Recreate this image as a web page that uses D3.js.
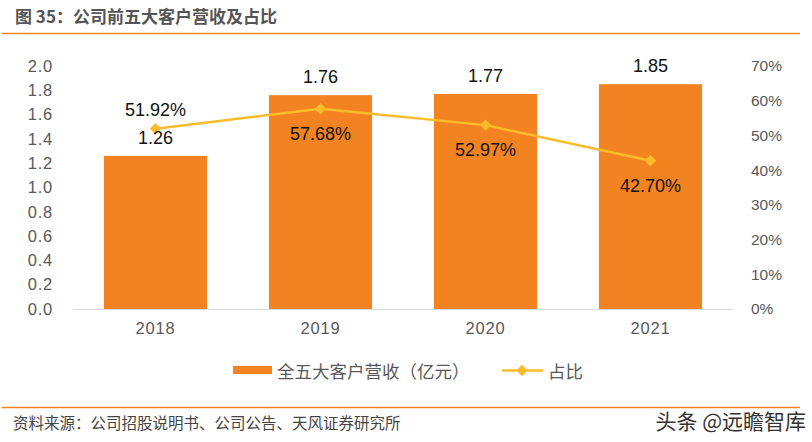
<!DOCTYPE html>
<html><head><meta charset="utf-8">
<script src="https://cdn.jsdelivr.net/npm/d3@7"></script>
<style>body{margin:0;background:#fff;} svg{display:block;}</style>
</head><body>
<svg id="c" width="812" height="442"></svg>
<script>
const years = ["2018","2019","2020","2021"];
const revenue = [1.26, 1.76, 1.77, 1.85];
const share = [0.5192, 0.5768, 0.5297, 0.4270];
const leftTicks = [0,0.2,0.4,0.6,0.8,1.0,1.2,1.4,1.6,1.8,2.0];
const rightTicks = [0,0.1,0.2,0.3,0.4,0.5,0.6,0.7];
const title = "图 35：公司前五大客户营收及占比";
const seriesNames = ["全五大客户营收（亿元）","占比"];
const source = "资料来源：公司招股说明书、公司公告、天风证券研究所";
const watermark = "头条 @远瞻智库";

const svg = d3.select("#c");
const font = "Arial, 'Liberation Sans', 'Noto Sans CJK SC', sans-serif";
const cjk = "'Noto Sans CJK SC', sans-serif";
const barColor = "#F38321", lineColor = "#FBBC2C", txt = "#595959";

// Header / footer
svg.append("text").attr("x",15).attr("y",23).attr("font-family",cjk)
  .attr("font-size",17).attr("font-weight","bold").attr("fill","#555").text(title);
svg.append("line").attr("x1",2).attr("x2",800).attr("y1",33.5).attr("y2",33.5).attr("stroke","#F38321").attr("stroke-width",1.5);
svg.append("line").attr("x1",2).attr("x2",800).attr("y1",407.5).attr("y2",407.5).attr("stroke","#F38321").attr("stroke-width",1.5);
svg.append("text").attr("x",13).attr("y",429).attr("font-family",cjk)
  .attr("font-size",15.5).attr("fill","#444").text(source);
svg.append("text").attr("x",806).attr("y",429).attr("text-anchor","end").attr("font-family",cjk)
  .attr("font-size",21).attr("fill","#333").text(watermark);

const x = d3.scaleBand().domain(years).range([73,733]).paddingInner(0.375).paddingOuter(0.1875);
const y = d3.scaleLinear().domain([0,2]).range([309,66]);
const y2 = d3.scaleLinear().domain([0,0.7]).range([309,66]);

// Left axis
const ga = svg.append("g").attr("transform","translate(60,0)")
  .call(d3.axisLeft(y).tickValues(leftTicks).tickFormat(d3.format(".1f")).tickSize(0).tickPadding(7));
ga.select(".domain").remove();
ga.selectAll("text").attr("font-family",font).attr("font-size",16.5).attr("letter-spacing",0.8).attr("fill",txt);

const gr = svg.append("g").attr("transform","translate(745,0)")
  .call(d3.axisRight(y2).tickValues(rightTicks).tickFormat(d3.format(".0%")).tickSize(0).tickPadding(6));
gr.select(".domain").remove();
gr.selectAll("text").attr("font-family",font).attr("font-size",15.5).attr("fill",txt);

// Bars
svg.selectAll("rect.bar").data(years).join("rect").attr("class","bar")
  .attr("x",d=>x(d)).attr("width",x.bandwidth())
  .attr("y",(d,i)=>y(revenue[i])).attr("height",(d,i)=>y(0)-y(revenue[i]))
  .attr("fill",barColor);

// Baseline
svg.append("line").attr("x1",73).attr("x2",733).attr("y1",309.5).attr("y2",309.5).attr("stroke","#d9d9d9").attr("stroke-width",1);

// X axis labels
const gx = svg.append("g").attr("transform","translate(0,316)")
  .call(d3.axisBottom(x).tickSize(0).tickPadding(6));
gx.select(".domain").remove();
gx.selectAll("text").attr("font-family",font).attr("font-size",16.5).attr("letter-spacing",0.8).attr("fill",txt);

// Line
const cx = d => x(d)+x.bandwidth()/2;
svg.append("path").datum(years)
  .attr("d", d3.line().x(d=>cx(d)).y((d,i)=>y2(share[i])))
  .attr("fill","none").attr("stroke",lineColor).attr("stroke-width",2.5);
svg.selectAll("path.mk").data(years).join("path").attr("class","mk")
  .attr("d", d3.symbol(d3.symbolSquare, 64))
  .attr("transform",(d,i)=>`translate(${cx(d)},${y2(share[i])}) rotate(45)`)
  .attr("fill",lineColor);

// Bar labels
svg.selectAll("text.bl").data(years).join("text").attr("class","bl")
  .attr("x",d=>cx(d)).attr("y",(d,i)=>y(revenue[i])-12)
  .attr("text-anchor","middle").attr("font-family",font).attr("font-size",18).attr("fill","#111")
  .text((d,i)=>revenue[i].toFixed(2));

// Share labels
svg.selectAll("text.sl").data(years).join("text").attr("class","sl")
  .attr("x",d=>cx(d)).attr("y",(d,i)=> i===0 ? y2(share[i])-13 : y2(share[i])+31)
  .attr("text-anchor","middle").attr("font-family",font).attr("font-size",18).attr("fill","#111")
  .text((d,i)=>(share[i]*100).toFixed(2)+"%");

// Legend
svg.append("rect").attr("x",233).attr("y",366).attr("width",39).attr("height",8).attr("fill",barColor);
svg.append("text").attr("x",277).attr("y",378).attr("font-family",cjk)
  .attr("font-size",17.5).attr("fill",txt).text(seriesNames[0]);
svg.append("line").attr("x1",502).attr("x2",543).attr("y1",370.5).attr("y2",370.5).attr("stroke",lineColor).attr("stroke-width",2.5);
svg.append("path").attr("d",d3.symbol(d3.symbolSquare,64)).attr("transform","translate(522,370.5) rotate(45)").attr("fill",lineColor);
svg.append("text").attr("x",548).attr("y",378).attr("font-family",cjk)
  .attr("font-size",17.5).attr("fill",txt).text(seriesNames[1]);
</script>
</body></html>
